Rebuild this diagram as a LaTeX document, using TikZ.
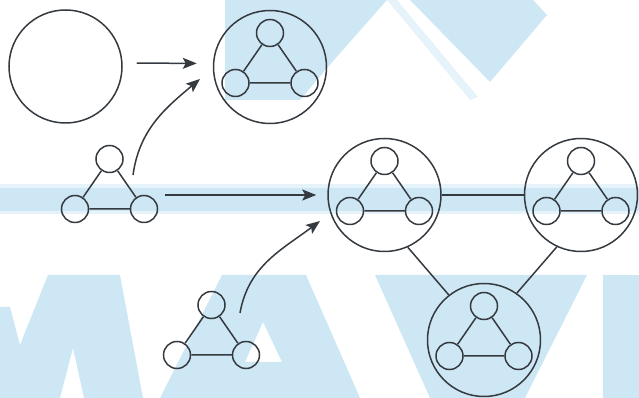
\documentclass[tikz,border=0pt]{standalone}
\usetikzlibrary{arrows.meta}

\definecolor{tinta}{RGB}{52,58,64}
\definecolor{marca}{RGB}{206,231,244}
\definecolor{marcaclara}{RGB}{230,243,250}

\begin{document}
\begin{tikzpicture}[x=1pt,y=1pt,
    burbuja/.style={circle, draw=tinta, line width=1.5pt, minimum size=27pt, inner sep=0pt},
    celda/.style={circle, draw=tinta, line width=1.5pt, minimum size=113pt, inner sep=0pt},
    enlace/.style={draw=tinta, line width=1.5pt},
    flecha/.style={draw=tinta, line width=1.5pt, -{Stealth[length=14pt,width=11pt,inset=3pt]}}]

            \useasboundingbox (0,0) rectangle (639,398);

            %---------------- FONDO ----------------
            % marca de agua detras de todo

            \fill[marcaclara] (0,184) rectangle (639,214);
            \fill[marca] (0,187) rectangle (639,210);

            \fill[marca]
            (225,398) -- (387,398) -- (379,389) -- (327,330)
            -- (300,298) -- (225,298) -- cycle;

            \fill[marcaclara]
            (387,398) -- (397,398) -- (478,301) -- (470,298) -- cycle;

            \fill[marca]
            (410,398) -- (533,398) -- (547,383) -- (490,316) -- cycle;

            \fill[marca]
            (0,0) -- (0,91) -- (10,91) -- (20,53) -- (48,123)
            -- (120,123) -- (143,0) -- (84,0) -- (73,50) -- (60,0) -- cycle;

            \fill[marca, even odd rule]
            (160,0) -- (222,123) -- (306,123) -- (360,0) -- cycle
            (263,76) -- (282,36) -- (245,36) -- cycle;

            \fill[marca]
            (375,123) -- (587,123) -- (525,0) -- (430,0) -- cycle;

            \fill[marca] (603,0) rectangle (639,123);

            %---------------- CELDAS ----------------

            \node[celda] (c0) at (65.5,331.5) {};
            \node[celda] (c1) at (270,331) {};
            \node[celda] (c2) at (384.5,203) {};
            \node[celda] (c3) at (581,203) {};
            \node[celda] (c4) at (484,58) {};

            %---------------- TRIANGULOS ----------------

            \foreach \t/\cx/\cy in {k1/270/331, k2/384.5/203, k3/581/203,
                                    k4/484/58, f1/109.5/205, f2/211.5/59}
            {
                \node[burbuja] (\t-a) at (\cx,\cy+34) {};
                \node[burbuja] (\t-l) at (\cx-34.5,\cy-16) {};
                \node[burbuja] (\t-r) at (\cx+34.5,\cy-16) {};
                \draw[enlace] (\t-a) -- (\t-l) (\t-l) -- (\t-r) (\t-r) -- (\t-a);
            }

            %---------------- UNIONES ----------------

            \draw[enlace] (c2.east) -- (c3.west);
            \draw[enlace] (c2.-66) -- (c4.128);
            \draw[enlace] (c3.-115) -- (c4.55);

            %---------------- FLECHAS ----------------

            \coordinate (s1) at (133,223);
            \coordinate (e1) at (200,319);
            \coordinate (s2) at (240,85);
            \coordinate (e2) at (320,177);

            \draw[flecha, shorten <=14pt, shorten >=16pt]
            ([yshift=3.5pt]c0.east) -- ([yshift=3.5pt]c1.west);

            \draw[flecha, shorten <=7pt, shorten >=11pt]
            (c2.west -| f1-r.east) -- (c2.west);

            \draw[flecha] (s1) to[out=82, in=220] (e1);
            \draw[flecha] (s2) to[out=80, in=217] (e2);

        \end{tikzpicture}
\end{document}
